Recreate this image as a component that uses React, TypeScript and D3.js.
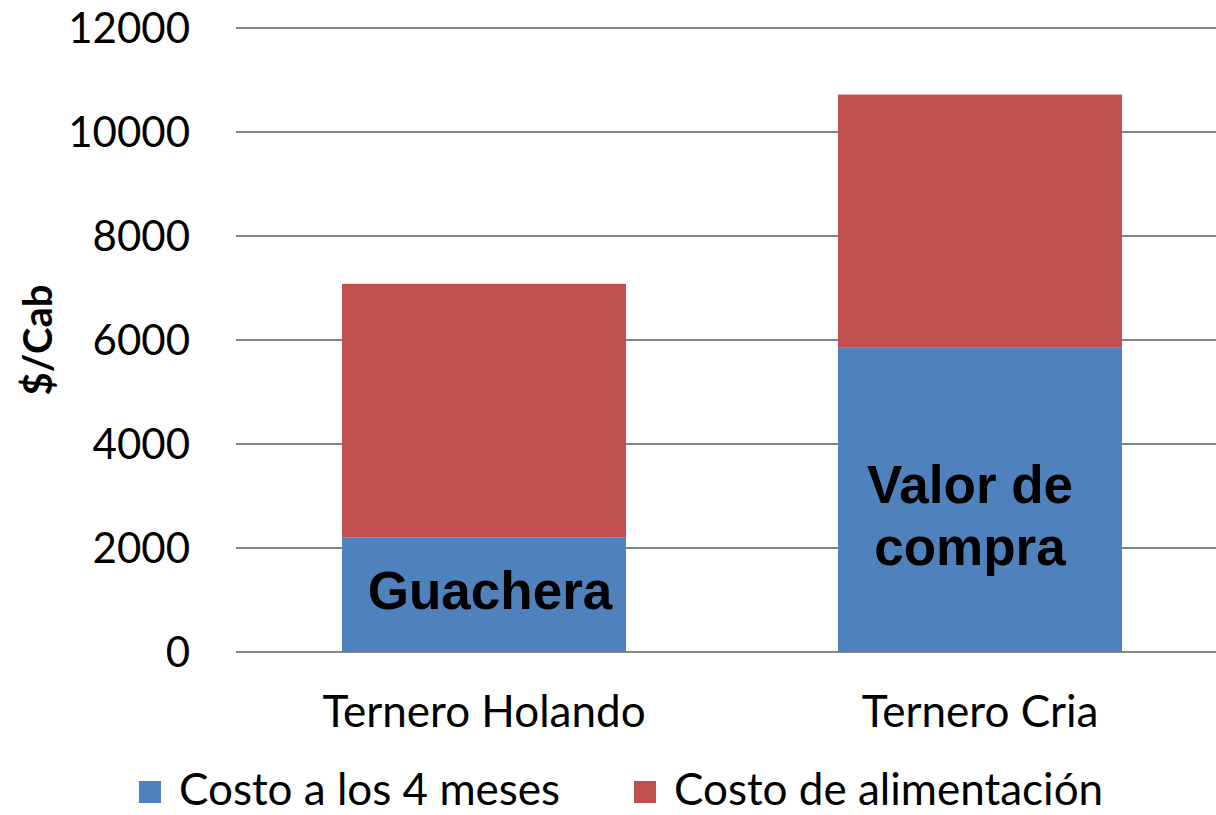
import React from "react";
import * as d3 from "d3";

const categories = ["Ternero Holando", "Ternero Cria"];
const costo4Meses = [2200, 5850];
const costoAlimentacion = [4880, 4870];
const seriesNames = ["Costo a los 4 meses", "Costo de alimentación"];
const seriesColors = ["#4F81BD", "#C0504D"];
const yTicks = [0, 2000, 4000, 6000, 8000, 10000, 12000];
const barLabels = [["Guachera"], ["Valor de", "compra"]];
const yAxisTitle = "$/Cab";

const W = 1216;
const H = 815;
const plot = { left: 236, right: 1228, top: 28, bottom: 652 };
const FONT = "Lato, 'Open Sans', sans-serif";

export default function App() {
  const x = d3
    .scaleBand<string>()
    .domain(categories)
    .range([plot.left, plot.right])
    .paddingInner(0.4274)
    .paddingOuter(0.2137);
  const y = d3.scaleLinear().domain([0, 12000]).range([plot.bottom, plot.top]);

  const rows = categories.map((c, i) => ({
    cat: c,
    a: costo4Meses[i],
    b: costoAlimentacion[i],
  }));
  const stack = d3.stack<any>().keys(["a", "b"])(rows);

  return (
    <svg
      width={W}
      height={H}
      style={{ position: "absolute", left: 0, top: 0, background: "#fff" }}
    >
      {/* gridlines */}
      {yTicks.map((t) => (
        <line
          key={t}
          x1={plot.left}
          x2={plot.right}
          y1={y(t)}
          y2={y(t)}
          stroke="#868686"
          strokeWidth={2}
        />
      ))}
      {/* tick labels */}
      {yTicks.map((t) => (
        <text
          key={"l" + t}
          x={190}
          y={y(t)}
          dy="0.35em"
          textAnchor="end"
          fontFamily={FONT}
          fontSize={42}
          fill="#000"
        >
          {t}
        </text>
      ))}
      {/* bars */}
      {stack.map((layer, si) =>
        layer.map((d, i) => (
          <rect
            key={si + "-" + i}
            x={x(categories[i])}
            width={x.bandwidth()}
            y={y(d[1])}
            height={y(d[0]) - y(d[1])}
            fill={seriesColors[si]}
          />
        ))
      )}
      {/* bar annotations */}
      {categories.map((c, i) => {
        const lines = barLabels[i];
        const cx = (x(c) as number) + x.bandwidth() / 2 + (i === 0 ? 6 : -10);
        const baseY = i === 0 ? y(costo4Meses[i] / 2) + 14 : y(costo4Meses[i]) + 155;
        return (
          <text
            key={"bl" + i}
            x={cx}
            textAnchor="middle"
            fontFamily="'Liberation Sans', Arial, sans-serif"
            fontWeight="bold"
            fontSize={53}
            fill="#000"
          >
            {lines.map((ln, k) => (
              <tspan key={k} x={cx} y={baseY + k * 62}>
                {ln}
              </tspan>
            ))}
          </text>
        );
      })}
      {/* category labels */}
      {categories.map((c) => (
        <text
          key={"c" + c}
          x={(x(c) as number) + x.bandwidth() / 2}
          y={727}
          textAnchor="middle"
          fontFamily={FONT}
          fontSize={44}
          fill="#000"
        >
          {c}
        </text>
      ))}
      {/* y axis title */}
      <text
        transform={`translate(52, 340) rotate(-90)`}
        textAnchor="middle"
        fontFamily={FONT}
        fontWeight="bold"
        fontSize={40}
        fill="#000"
      >
        {yAxisTitle}
      </text>
      {/* legend */}
      {seriesNames.map((s, i) => {
        const lx = i === 0 ? 139 : 634;
        return (
          <g key={"lg" + i}>
            <rect x={lx} y={781} width={22} height={22} fill={seriesColors[i]} />
            <text
              x={lx + 40}
              y={805}
              fontFamily={FONT}
              fontSize={44}
              fill="#000"
            >
              {s}
            </text>
          </g>
        );
      })}
    </svg>
  );
}
